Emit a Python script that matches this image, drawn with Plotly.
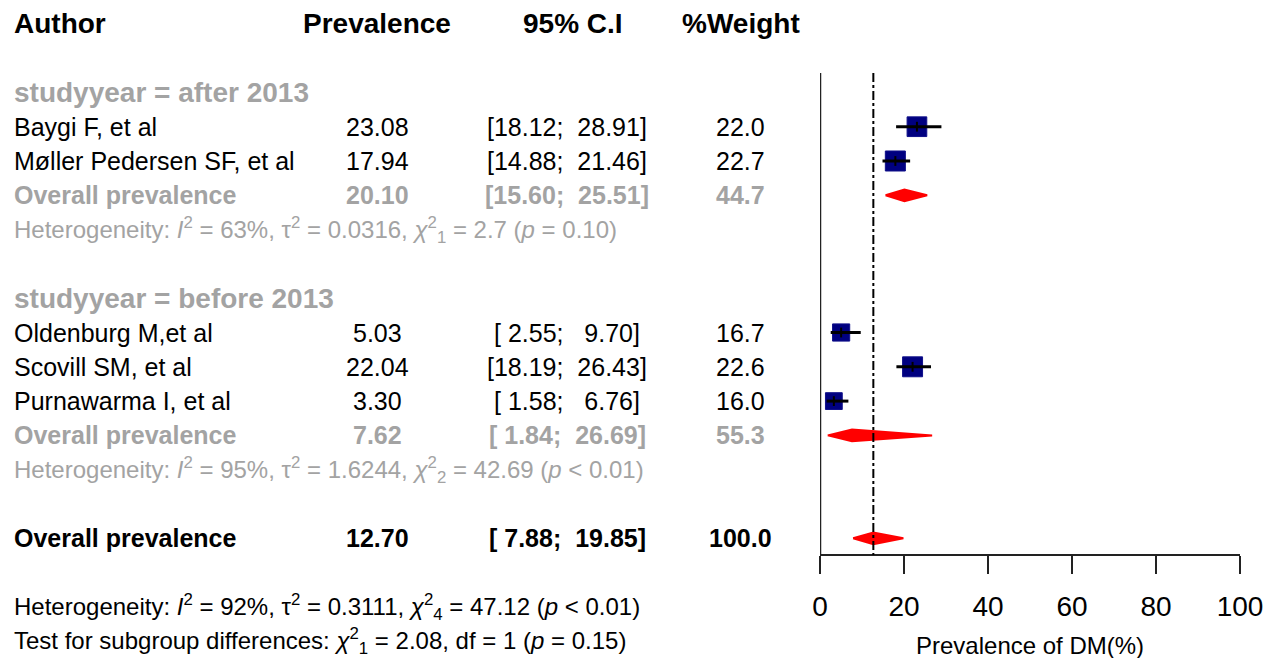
import plotly.graph_objects as go

# ---- study-level data -------------------------------------------------------
authors = ["Baygi F, et al", "Møller Pedersen SF, et al",
           "Oldenburg M,et al", "Scovill SM, et al", "Purnawarma I, et al"]
prevalence = [23.08, 17.94, 5.03, 22.04, 3.30]
ci_low = [18.12, 14.88, 2.55, 18.19, 1.58]
ci_high = [28.91, 21.46, 9.70, 26.43, 6.76]
weights = [22.0, 22.7, 16.7, 22.6, 16.0]
study_rows = [1, 2, 7, 8, 9]

# ---- subgroup summaries -----------------------------------------------------
subgroup_labels = ["studyyear = after 2013", "studyyear = before 2013"]
subgroup_header_rows = [0, 6]
sub_prev = [20.10, 7.62]
sub_low = [15.60, 1.84]
sub_high = [25.51, 26.69]
sub_weight = [44.7, 55.3]
sub_rows = [3, 10]
sub_het = [
    "Heterogeneity: <i>I</i><sup>2</sup> = 63%, τ<sup>2</sup> = 0.0316, "
    "<i>χ</i><sup>2</sup><sub>1</sub> = 2.7 (<i>p</i> = 0.10)",
    "Heterogeneity: <i>I</i><sup>2</sup> = 95%, τ<sup>2</sup> = 1.6244, "
    "<i>χ</i><sup>2</sup><sub>2</sub> = 42.69 (<i>p</i> < 0.01)",
]
sub_het_rows = [4, 11]

# ---- pooled estimate --------------------------------------------------------
overall_prev = 12.70
overall_low = 7.88
overall_high = 19.85
overall_weight = 100.0
overall_row = 13
overall_het = ("Heterogeneity: <i>I</i><sup>2</sup> = 92%, τ<sup>2</sup> = 0.3111, "
               "<i>χ</i><sup>2</sup><sub>4</sub> = 47.12 (<i>p</i> < 0.01)")
subgroup_test = ("Test for subgroup differences: <i>χ</i><sup>2</sup><sub>1</sub> = 2.08, "
                 "df = 1 (<i>p</i> = 0.15)")

col_headers = ["Author", "Prevalence", "95% C.I", "%Weight"]
x_ticks = [0, 20, 40, 60, 80, 100]
x_title = "Prevalence of DM(%)"

# ---- layout constants -------------------------------------------------------
W, H = 1265, 658
FONT = "Liberation Sans, Arial, sans-serif"
GREY = "#A3A3A3"
NAVY = "#000080"
RED = "#FF0000"
AXIS_COLOR = "#222222"

row_top, row_step = 92.4, 34.3          # pixel centre of row 0 and row spacing


def px_to_row(py):
    return (py - row_top) / row_step


def px(x):
    return x / W


col_author = px(12)
col_prev = px(377)
col_ci = px(567)
col_w = px(741)

NB = "\u00a0"


def fmt_ci(lo, hi):
    lo_s = f"{lo:.2f}".rjust(5, NB)
    hi_s = f"{hi:.2f}".rjust(5, NB)
    return f"[{lo_s};{NB}{NB}{hi_s}]".replace(" ", NB)


fig = go.Figure()

# weight squares for each study
sq_sizes = [4.2 * w ** 0.5 for w in weights]
fig.add_trace(go.Scatter(
    x=prevalence, y=study_rows, mode="markers", opacity=1,
    marker=dict(symbol="square", size=sq_sizes, color=NAVY, opacity=1,
                line=dict(width=1, color="#10108a")),
    hoverinfo="skip", showlegend=False))

# confidence-interval whiskers
wx, wy = [], []
for lo, hi, r in zip(ci_low, ci_high, study_rows):
    wx += [lo, hi, None]
    wy += [r, r, None]
fig.add_trace(go.Scatter(x=wx, y=wy, mode="lines",
                         line=dict(color="black", width=3),
                         hoverinfo="skip", showlegend=False))
fig.add_trace(go.Scatter(
    x=prevalence, y=study_rows, mode="markers",
    marker=dict(symbol="line-ns", size=7, opacity=1,
                line=dict(width=2, color="black")),
    hoverinfo="skip", showlegend=False))

# summary diamonds (subgroups and overall)
half_h = 0.17
for est, lo, hi, r in zip(sub_prev + [overall_prev],
                          sub_low + [overall_low],
                          sub_high + [overall_high],
                          sub_rows + [overall_row]):
    fig.add_trace(go.Scatter(
        x=[lo, est, hi, est, lo], y=[r, r - half_h, r, r + half_h, r],
        mode="lines", fill="toself", fillcolor=RED,
        line=dict(color=RED, width=2),
        hoverinfo="skip", showlegend=False))

# vertical reference lines
fig.add_shape(type="line", xref="x", yref="y", x0=0, x1=0,
              y0=px_to_row(73), y1=px_to_row(555),
              line=dict(color=AXIS_COLOR, width=2.5))
fig.add_shape(type="line", xref="x", yref="y", x0=overall_prev, x1=overall_prev,
              y0=px_to_row(73), y1=px_to_row(555),
              line=dict(color="black", width=2, dash="dashdot"))

annotations = []


def text(x, row, s, size=25, color="black", bold=False, anchor="center"):
    if bold:
        s = f"<b>{s}</b>"
    annotations.append(dict(
        x=x, y=row, xref="paper", yref="y", text=s, showarrow=False,
        xanchor=anchor, yanchor="middle",
        font=dict(family=FONT, size=size, color=color)))


# column headers
hdr_row = -2
text(col_author, hdr_row, col_headers[0], size=28, bold=True, anchor="left")
text(col_prev, hdr_row, col_headers[1], size=28, bold=True)
text(px(573), hdr_row, col_headers[2], size=28, bold=True)
text(col_w, hdr_row, col_headers[3], size=28, bold=True)

# subgroup headers, summaries and heterogeneity lines
for lab, r in zip(subgroup_labels, subgroup_header_rows):
    text(col_author, r, lab, size=28, color=GREY, bold=True, anchor="left")

for est, lo, hi, w, r in zip(sub_prev, sub_low, sub_high, sub_weight, sub_rows):
    text(col_author, r, "Overall prevalence", size=25, color=GREY, bold=True, anchor="left")
    text(col_prev, r, f"{est:.2f}", size=25, color=GREY, bold=True)
    text(col_ci, r, fmt_ci(lo, hi), size=25, color=GREY, bold=True)
    text(col_w, r, f"{w:.1f}", size=25, color=GREY, bold=True)

for s, r in zip(sub_het, sub_het_rows):
    text(col_author, r, s, size=24, color=GREY, anchor="left")

# study rows
for a, p, lo, hi, w, r in zip(authors, prevalence, ci_low, ci_high, weights, study_rows):
    text(col_author, r, a, anchor="left")
    text(col_prev, r, f"{p:.2f}")
    text(col_ci, r, fmt_ci(lo, hi))
    text(col_w, r, f"{w:.1f}")

# pooled row
text(col_author, overall_row, "Overall prevalence", bold=True, anchor="left")
text(col_prev, overall_row, f"{overall_prev:.2f}", bold=True)
text(col_ci, overall_row, fmt_ci(overall_low, overall_high), bold=True)
text(col_w, overall_row, f"{overall_weight:.1f}", bold=True)

text(col_author, 15, overall_het, size=24, anchor="left")
text(col_author, 16, subgroup_test, size=24, anchor="left")

# x-axis title
annotations.append(dict(
    x=px(1030), y=(H - 645) / H, xref="paper", yref="paper", text=x_title,
    showarrow=False, xanchor="center", yanchor="middle",
    font=dict(family=FONT, size=24, color="black")))

fig.update_layout(
    template="none",
    width=W, height=H, autosize=False,
    margin=dict(l=0, r=0, t=0, b=0, pad=0),
    paper_bgcolor="white", plot_bgcolor="white",
    showlegend=False,
    annotations=annotations,
    font=dict(family=FONT, color="black", size=25),
    xaxis=dict(
        domain=[820 / W, 1240 / W], range=[0, 100],
        anchor="free", position=(H - 555) / H,
        tickmode="array", tickvals=x_ticks, ticktext=[str(t) for t in x_ticks],
        ticks="outside", ticklen=18, tickwidth=2, tickcolor=AXIS_COLOR,
        showline=True, linewidth=2, linecolor=AXIS_COLOR,
        showgrid=False, zeroline=False,
        tickfont=dict(family=FONT, size=28, color="black"),
        ticklabelstandoff=8,
    ),
    yaxis=dict(
        domain=[0, 1], range=[px_to_row(H), px_to_row(0)],
        visible=False, showgrid=False, zeroline=False,
    ),
)

fig.write_html("out.html")
